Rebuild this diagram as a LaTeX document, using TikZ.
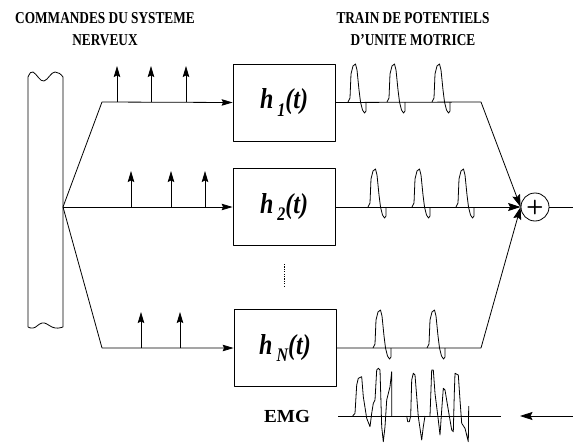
\documentclass[tikz,border=0pt]{standalone}
\usepackage{fontspec}
\setmainfont{Liberation Serif}
\usetikzlibrary{arrows.meta}
\begin{document}
\begin{tikzpicture}[x=1pt,y=-1pt,line width=0.8pt,line join=round,
  tip/.style={-{Stealth[length=11pt,width=6.5pt,inset=1.5pt]}},
  bigtip/.style={-{Stealth[length=12.5pt,width=8pt,inset=2pt]}},
  box/.style={draw,minimum width=102pt,minimum height=77pt,inner sep=0pt,
    font=\fontsize{24}{24}\selectfont\bfseries\itshape},
  header/.style={font=\fontsize{13.3}{22}\selectfont\bfseries,align=center,inner sep=0pt},
  sumnode/.style={draw,circle,minimum size=28pt,inner sep=0pt,font=\fontsize{20}{20}\selectfont\bfseries\sffamily},
  pulse/.pic={\draw (0,0) -- (2,-4) -- (3,-28) -- (5,-36) -- (7.5,-38) -- (9,-32) -- (11,-12) -- (12.5,0) -- (14.5,8) -- (16.5,11) -- (18,9) -- (18,0);}
]
\useasboundingbox (0,0) rectangle (573,444);

% headers
\node[header] (hdrA) at (105,29) {\scalebox{1}[1.25]{COMMANDES DU SYSTEME}\\\scalebox{1}[1.25]{NERVEUX}};
\node[header] (hdrB) at (413,29) {\scalebox{1}[1.25]{TRAIN DE POTENTIELS}\\\scalebox{1}[1.25]{D'UNITE MOTRICE}};

% nerve bar
\draw (28,327) -- (28,77) .. controls (30,73) and (31,71) .. (33,72)
  .. controls (37,74) and (40,82) .. (44,81)
  .. controls (48,80) and (51,72) .. (55,72)
  .. controls (58,72) and (61,74) .. (63,77) -- (63,327)
  .. controls (60,328) and (56,329) .. (52,327)
  .. controls (48,325) and (45,322) .. (42,323)
  .. controls (38,324) and (36,328) .. (33,328)
  .. controls (31,328) and (29,328) .. (28,327);

\coordinate (fan) at (63,207);
\coordinate (c1) at (102,102);
\coordinate (cN) at (102,348);

% boxes
\node[box] (b1) at (284,102.5) {\scalebox{1}[1.2]{h\,\raisebox{-6pt}{\fontsize{16}{16}\selectfont 1}(t)}};
\node[box] (b2) at (284,207) {\scalebox{1}[1.2]{h\,\raisebox{-6pt}{\fontsize{16}{16}\selectfont 2}(t)}};
\node[box] (bN) at (285,348) {\scalebox{1}[1.2]{h\,\raisebox{-6pt}{\fontsize{16}{16}\selectfont N}(t)}};

% inputs
\draw[tip] (fan) -- (c1) -- (b1.west);
\draw[tip] (fan) -- (b2.west);
\draw[tip] (fan) -- (cN) -- (bN.west);

% impulses
\foreach \x in {117,151,186} {\draw[tip] (\x,102) -- (\x,66);}
\foreach \x in {131,171,205} {\draw[tip] (\x,207) -- (\x,171);}
\foreach \x in {141,180} {\draw[tip] (\x,348) -- (\x,312);}

% dots
\draw[dash pattern=on 1.2pt off 1.2pt] (284,264) -- (284,287);

% sum node
\node[sumnode] (sum) at (535,207) {+};
\coordinate (o1) at (481,102);
\coordinate (oN) at (481,348);
\coordinate (out) at (573,207);

\draw[bigtip] (b1.east) -- (o1) -- (sum.west);
\draw[bigtip] (b2.east) -- (sum.west);
\draw[bigtip] (bN.east) -- (oN) -- (sum.west);
\draw (sum.east) -- (out);

% pulses
\foreach \x in {348,387,432} {\pic at (\x,102) {pulse};}
\foreach \x in {368,412,456} {\pic at (\x,207) {pulse};}
\foreach \x in {373,427} {\pic at (\x,348) {pulse};}

% EMG
\node[font=\fontsize{16}{16}\selectfont\bfseries] (emg) at (287,416) {\scalebox{1.2}[1.15]{EMG}};
\coordinate (eL) at (338,416);
\coordinate (eR) at (501,416);
\draw (eL) -- (eR);
\draw (352.7,416) -- (355,413.3) -- (356.7,385) -- (358.3,378.3) -- (361.7,376.7) -- (363.3,396.7)
 -- (366.7,418.3) -- (370,426.7) -- (371.7,413.3) -- (373.3,403.3) -- (375,400) -- (376.7,370)
 -- (378.3,368.3) -- (380,370) -- (381.7,426.7) -- (383.3,441.7) -- (385,426.7) -- (386.7,400)
 -- (390,386.7) -- (391.7,371.7) -- (391.7,416);
\draw (406.7,416) -- (407.7,421.7) -- (409.3,421.7) -- (410.7,416) -- (411.7,380) -- (413.3,373.3)
 -- (415,375) -- (418.3,416.7) -- (421.7,440) -- (423.3,426.7) -- (425,416);
\draw (430,416) -- (431.7,370) -- (433.3,370) -- (435,393.3) -- (438.3,420) -- (440,435)
 -- (441.7,410) -- (443.3,388.3) -- (445,390) -- (448.3,410) -- (451.7,430) -- (453.3,431.7)
 -- (454.3,393.3) -- (455,373.3) -- (458.3,375) -- (460,400) -- (461.7,423.3) -- (465,428.3)
 -- (468.3,441.7) -- (468.7,406);
\coordinate (aR) at (573,416);
\coordinate (aL) at (520,416);
\draw[bigtip] (aR) -- (aL);
\end{tikzpicture}
\end{document}
